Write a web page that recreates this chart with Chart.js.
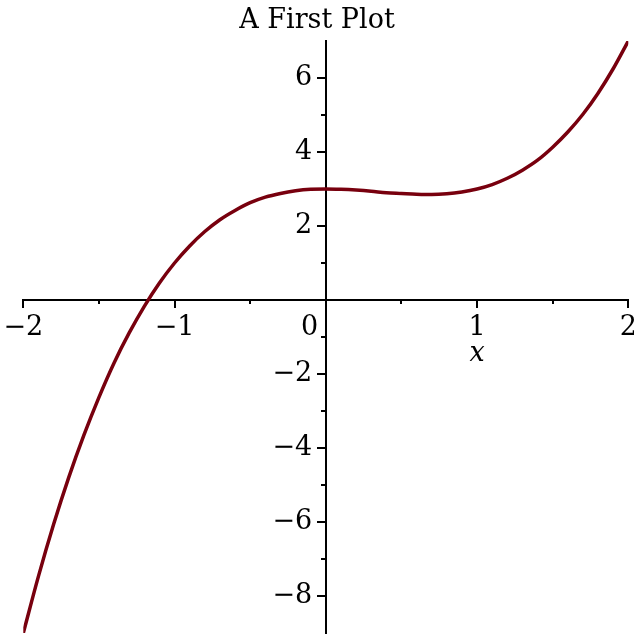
<!DOCTYPE html>
<html><head><meta charset="utf-8">
<script src="https://cdn.jsdelivr.net/npm/chart.js@4"></script>
<style>html,body{margin:0;padding:0;background:#fff;overflow:hidden}#wrap{width:634px;height:635px}</style>
</head><body><div id="wrap"><canvas id="c" width="634" height="635"></canvas></div>
<script>
// Data
const xValues = [-2.0,-1.9,-1.8,-1.7,-1.6,-1.5,-1.4,-1.3,-1.2,-1.1,-1.0,-0.9,-0.8,-0.7,-0.6,-0.5,-0.4,-0.3,-0.2,-0.1,0.0,
                 0.1,0.2,0.3,0.4,0.5,0.6,0.7,0.8,0.9,1.0,1.1,1.2,1.3,1.4,1.5,1.6,1.7,1.8,1.9,2.0];
const yValues = [-9.00,-7.47,-6.07,-4.80,-3.66,-2.63,-1.70,-0.89,-0.17,0.46,1.00,1.46,1.85,2.17,2.42,2.63,2.78,2.88,2.95,2.99,3.00,
                 2.99,2.97,2.94,2.90,2.88,2.86,2.85,2.87,2.92,3.00,3.12,3.29,3.51,3.78,4.13,4.54,5.02,5.59,6.25,7.00];
const xMajorTicks = [-2, -1, 0, 1, 2];
const xMajorLabels = ['\u22122', '\u22121', '0', '1', '2'];
const xMinorTicks = [-1.5, -0.5, 0.5, 1.5];
const yMajorTicks = [-8, -6, -4, -2, 2, 4, 6];
const yMajorLabels = ['\u22128', '\u22126', '\u22124', '\u22122', '2', '4', '6'];
const yMinorTicks = [-7, -5, -3, -1, 1, 3, 5];
const titleText = 'A First Plot';
const xAxisTitle = 'x';

const FONT = 'DejaVu Serif';
const zeroPad = s => { s.paddingLeft = 0; s.paddingRight = 0; s.paddingTop = 0; s.paddingBottom = 0; };
const setTicks = arr => s => { s.ticks = arr.map(v => ({ value: v })); };
const spacer = (pos, w) => ({
  type: 'linear', position: pos, min: 0, max: 1,
  ticks: { display: false }, grid: { display: false, drawTicks: false }, border: { display: false },
  afterFit: s => { zeroPad(s); s.width = w; }
});

new Chart(document.getElementById('c'), {
  type: 'line',
  data: {
    datasets: [{
      data: xValues.map((x, i) => ({ x: x, y: yValues[i] })),
      borderColor: '#78000E',
      borderWidth: 3.5,
      pointRadius: 0,
      cubicInterpolationMode: 'monotone',
      fill: false,
      xAxisID: 'x',
      yAxisID: 'y'
    }]
  },
  options: {
    responsive: false,
    animation: false,
    devicePixelRatio: 1,
    layout: { padding: { left: 0, right: 0, top: 0, bottom: 2 } },
    plugins: {
      legend: { display: false },
      tooltip: { enabled: false },
      title: {
        display: true,
        text: titleText,
        color: '#000',
        font: { family: FONT, size: 27, weight: 'normal', lineHeight: 1.2 },
        padding: { top: 5, bottom: 3.6 }
      }
    },
    scales: {
      x: {
        type: 'linear', min: -2, max: 2, position: { y: 0 },
        afterBuildTicks: setTicks(xMajorTicks), afterFit: zeroPad,
        ticks: {
          autoSkip: false, maxRotation: 0, padding: 5, color: '#000',
          font: { family: FONT, size: 27, lineHeight: 1.2 },
          callback: v => {
            const l = xMajorLabels[xMajorTicks.indexOf(v)];
            return v === 0 ? l + '\u2003\u2009' : l;
          }
        },
        grid: { drawOnChartArea: false, tickLength: 7, lineWidth: 2, color: '#000' },
        border: { display: true, width: 2, color: '#000' }
      },
      xMinor: {
        type: 'linear', min: -2, max: 2, position: { y: 0 },
        afterBuildTicks: setTicks(xMinorTicks), afterFit: zeroPad,
        ticks: { display: false },
        grid: { drawOnChartArea: false, tickLength: 4, lineWidth: 2, color: '#000' },
        border: { display: false }
      },
      xTitle: {
        type: 'linear', min: -2, max: 2, position: { y: 0 },
        afterBuildTicks: setTicks([1]), afterFit: zeroPad,
        ticks: {
          autoSkip: false, maxRotation: 0, padding: 38, color: '#000',
          font: { family: FONT, size: 27, style: 'italic', lineHeight: 1.2 },
          callback: () => xAxisTitle
        },
        grid: { display: false, drawTicks: false },
        border: { display: false }
      },
      y: {
        type: 'linear', min: -9, max: 7, position: { x: 0 },
        afterBuildTicks: setTicks(yMajorTicks), afterFit: zeroPad,
        ticks: {
          autoSkip: false, color: '#000',
          font: { family: FONT, size: 27, lineHeight: 1.2 },
          callback: v => yMajorLabels[yMajorTicks.indexOf(v)] + '\u2002'
        },
        grid: { drawOnChartArea: false, tickLength: 8, lineWidth: 2, color: '#000' },
        border: { display: true, width: 2, color: '#000' }
      },
      yMinor: {
        type: 'linear', min: -9, max: 7, position: { x: 0 },
        afterBuildTicks: setTicks(yMinorTicks), afterFit: zeroPad,
        ticks: { display: false },
        grid: { drawOnChartArea: false, tickLength: 5, lineWidth: 2, color: '#000' },
        border: { display: false }
      },
      padLeft: spacer('left', 23.3),
      padRight: spacer('right', 5.7)
    }
  }
});
</script>
</body></html>
